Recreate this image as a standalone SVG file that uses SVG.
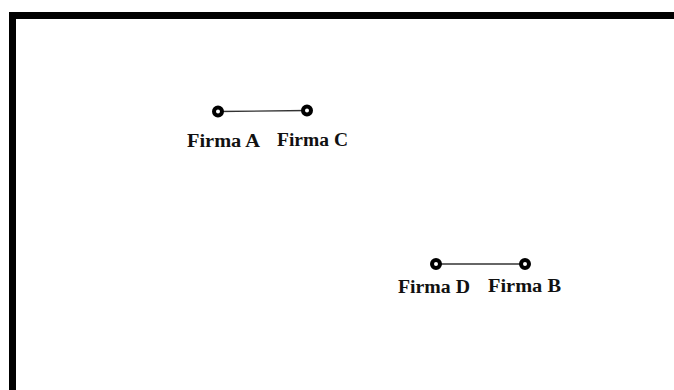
<svg xmlns="http://www.w3.org/2000/svg" width="674" height="390" viewBox="0 0 674 390">
  <style>
    .frame { fill: none; stroke: #000; stroke-width: 7; }
    .link { stroke: #333; stroke-width: 1.3; fill: none; }
    .dot { fill: #fff; stroke: #000; stroke-width: 4; }
    .lbl { font-family: "Liberation Serif", "Times New Roman", serif; font-weight: bold; font-size: 18px; fill: #111; }
  </style>
  <rect width="674" height="390" fill="#fff"/>
  <!-- frame open to the right and bottom -->
  <rect class="frame" x="12.5" y="15.5" width="700" height="420"/>

  <g id="connectors">
    <line class="link" x1="218" y1="111.5" x2="307" y2="110.5"/>
    <line class="link" x1="436" y1="264" x2="525" y2="264"/>
  </g>

  <g id="firma-a">
    <circle class="dot" cx="218" cy="111.5" r="4"/>
    <text class="lbl" x="187" y="147" textLength="73" lengthAdjust="spacingAndGlyphs">Firma A</text>
  </g>
  <g id="firma-c">
    <circle class="dot" cx="307" cy="110.5" r="4"/>
    <text class="lbl" x="277" y="146" textLength="71" lengthAdjust="spacingAndGlyphs">Firma C</text>
  </g>
  <g id="firma-d">
    <circle class="dot" cx="436" cy="264" r="4"/>
    <text class="lbl" x="398" y="293" textLength="72" lengthAdjust="spacingAndGlyphs">Firma D</text>
  </g>
  <g id="firma-b">
    <circle class="dot" cx="525" cy="264" r="4"/>
    <text class="lbl" x="488" y="292" textLength="73" lengthAdjust="spacingAndGlyphs">Firma B</text>
  </g>
</svg>
